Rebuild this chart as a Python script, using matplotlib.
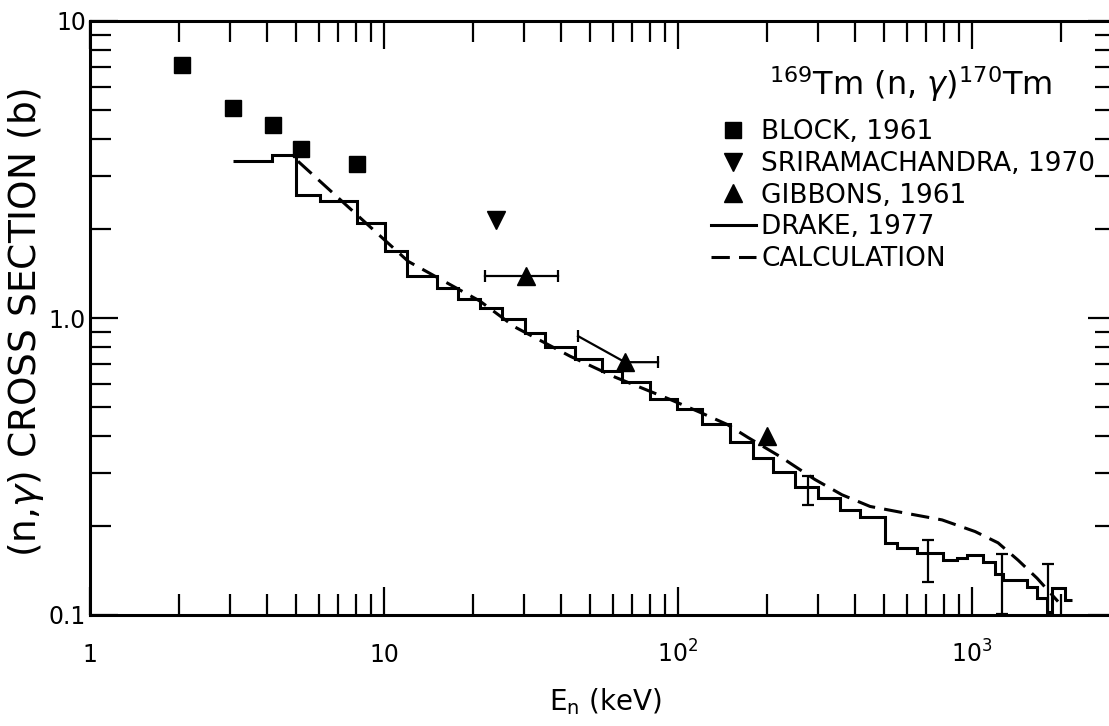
import numpy as np
import matplotlib
matplotlib.use('Agg')
import matplotlib.pyplot as plt
from matplotlib.lines import Line2D
from matplotlib.ticker import FixedLocator, NullFormatter, LogLocator

plt.rcParams['font.family'] = ['DejaVu Sans']
plt.rcParams['mathtext.fontset'] = 'dejavusans'

# Block, 1961 (squares)
block_e = [2.05, 3.07, 4.19, 5.22, 8.09]
block_s = [7.10, 5.08, 4.45, 3.72, 3.29]

# Sriramachandra, 1970 (down triangle)
srira_e = [24.0]
srira_s = [2.13]

# Gibbons, 1961 (up triangles) and their energy bars
gib_e = [30.4, 66.0, 201.0]
gib_s = [1.39, 0.71, 0.40]
gib_lo_e = [22.1, 45.7]
gib_lo_s = [1.39, 0.869]
gib_hi_e = [39.1, 85.5]

# Drake, 1977 histogram: bin edges (keV) and cross sections (b)
drake_edges = [3.07, 4.16, 5.02, 6.06, 8.09, 10.1, 12.0, 15.2, 17.9, 21.2,
               25.2, 30.2, 35.3, 44.6, 55.1, 64.5, 80.3, 99.2, 121, 150,
               180, 211, 250, 299, 356, 416, 506, 556, 650, 797,
               889, 962, 1090, 1197, 1275, 1539, 1664, 1799, 1871, 2072, 2188]
drake_s = [3.39, 3.53, 2.60, 2.48, 2.09, 1.68, 1.39, 1.26, 1.16, 1.08,
           0.992, 0.890, 0.798, 0.727, 0.662, 0.608, 0.532, 0.493, 0.438, 0.381,
           0.337, 0.304, 0.269, 0.248, 0.226, 0.213, 0.175, 0.168, 0.162, 0.153,
           0.156, 0.159, 0.151, 0.137, 0.131, 0.124, 0.114, 0.102, 0.123, 0.112]
# Drake error bars (energy, lower, upper)
derr_e = [277, 708, 1262, 1814]
derr_lo = [0.235, 0.129, 0.101, 0.097]
derr_hi = [0.293, 0.179, 0.160, 0.149]

# calculation (dashed)
calc_e = [5.10, 9.93, 12.1, 21.2, 27.9, 42.9, 61.1, 93.9, 119, 147, 173, 222,
          292, 361, 450, 583, 791, 1024, 1226, 1434, 1664, 1961]
calc_s = [3.37, 1.85, 1.55, 1.14, 0.932, 0.744, 0.632, 0.532, 0.481, 0.438, 0.396, 0.342,
          0.286, 0.254, 0.232, 0.221, 0.209, 0.191, 0.175, 0.153, 0.133, 0.111]

xticks = [1, 10, 100, 1000]
xticklabels = ['1', '10', r'$10^2$', r'$10^3$']
yticks = [0.1, 1, 10]
yticklabels = ['0.1', '1.0', '10']

fig = plt.figure(figsize=(11.09, 7.26), dpi=100)
# right spine sits just past the picture edge, as in the scan
ax = fig.add_axes([90 / 1109, 111 / 726, 1026.5 / 1109, 594 / 726])
ax.set_xscale('log')
ax.set_yscale('log')
ax.set_xlim(1, 3100)
ax.set_ylim(0.1, 10)

lw = 2.2
ax.stairs(drake_s, drake_edges, color='k', lw=lw, baseline=None)
dmid = np.sqrt(np.array(derr_lo) * np.array(derr_hi))
ax.errorbar(derr_e, dmid, yerr=[dmid - np.array(derr_lo), np.array(derr_hi) - dmid],
            fmt='none', ecolor='k', elinewidth=1.6, capsize=4, capthick=1.6)
ax.plot(calc_e, calc_s, color='k', lw=lw, dashes=(6, 3))

ax.plot(block_e, block_s, ls='none', marker='s', ms=11, color='k')
ax.plot(srira_e, srira_s, ls='none', marker='v', ms=13, color='k')
ax.plot(gib_e, gib_s, ls='none', marker='^', ms=13, color='k')
# energy bars for the Gibbons points
for i in range(len(gib_lo_e)):
    ax.plot([gib_lo_e[i], gib_e[i], gib_hi_e[i]], [gib_lo_s[i], gib_s[i], gib_s[i]],
            color='k', lw=1.6)
    ax.plot([gib_lo_e[i], gib_hi_e[i]], [gib_lo_s[i], gib_s[i]], ls='none',
            marker='|', ms=9, mew=1.6, color='k')

# axes styling
for sp in ax.spines.values():
    sp.set_linewidth(2.2)
ax.xaxis.set_major_locator(FixedLocator(xticks))
ax.set_xticklabels(xticklabels)
ax.yaxis.set_major_locator(FixedLocator(yticks))
ax.set_yticklabels(yticklabels)
ax.xaxis.set_minor_locator(LogLocator(base=10, subs=np.arange(2, 10)))
ax.yaxis.set_minor_locator(LogLocator(base=10, subs=np.arange(2, 10)))
ax.xaxis.set_minor_formatter(NullFormatter())
ax.yaxis.set_minor_formatter(NullFormatter())
ax.tick_params(which='both', direction='in', top=True, right=True, width=1.6)
ax.tick_params(which='major', length=20, labelsize=17)
ax.tick_params(which='minor', length=15)
ax.tick_params(axis='x', which='major', pad=34)
ax.tick_params(axis='y', which='major', pad=3)
for t in ax.get_xticklabels():
    t.set_verticalalignment('baseline')

ax.set_xlabel(r'E$_\mathregular{n}$ (keV)', fontsize=20)
ax.xaxis.set_label_coords(0.502, -0.12)
ax.set_ylabel(r'(n,$\gamma$) CROSS SECTION (b)', fontsize=27)
ax.yaxis.set_label_coords(-0.043, 0.493)

# reaction title above the key
ax.text(0.80, 0.893, r'$^{169}$Tm (n, $\gamma$)$^{170}$Tm', transform=ax.transAxes,
        ha='center', va='center', fontsize=23)

handles = [
    Line2D([], [], ls='none', marker='s', ms=11, color='k'),
    Line2D([], [], ls='none', marker='v', ms=13, color='k'),
    Line2D([], [], ls='none', marker='^', ms=13, color='k'),
    Line2D([], [], color='k', lw=lw),
    Line2D([], [], color='k', lw=lw, dashes=(6, 3)),
]
labels = ['BLOCK, 1961', 'SRIRAMACHANDRA, 1970', 'GIBBONS, 1961', 'DRAKE, 1977', 'CALCULATION']
leg = ax.legend(handles, labels, loc='upper left', bbox_to_anchor=(0.605, 0.835),
                frameon=False, fontsize=19, handlelength=1.7, handletextpad=0.2,
                labelspacing=0.22, borderpad=0, borderaxespad=0)

fig.savefig('out.png', dpi=100)
